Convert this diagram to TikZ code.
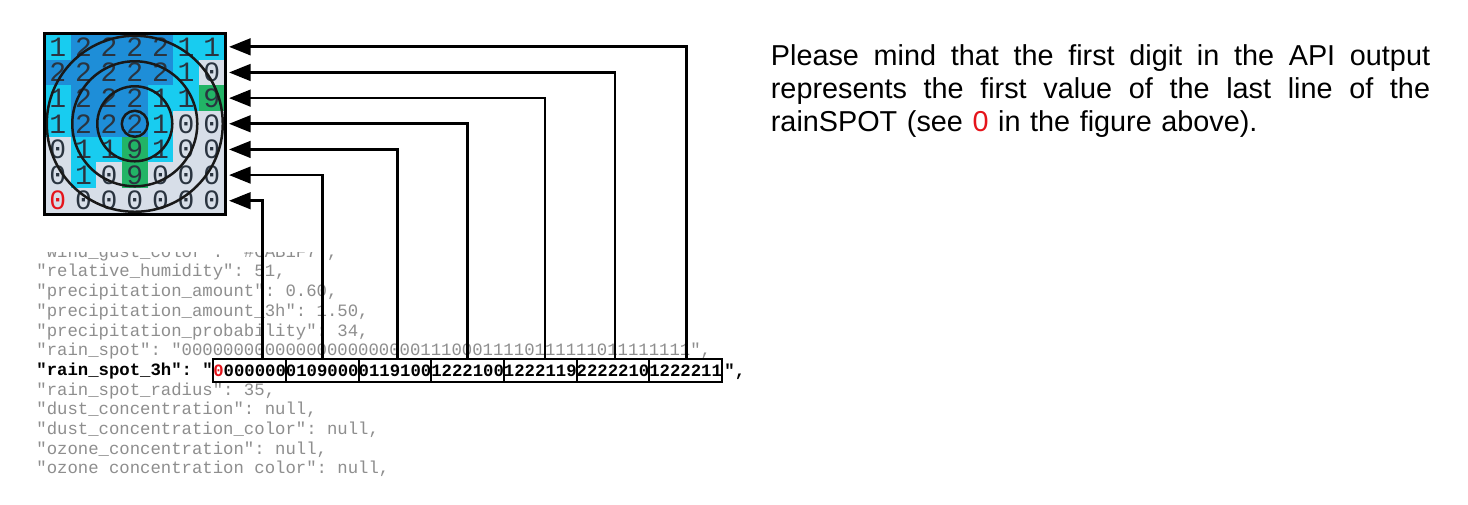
\documentclass[tikz,border=0pt]{standalone}
\usepackage{fontspec}
\setmainfont{Liberation Sans}
\newfontfamily\monofont{Liberation Mono}
\usetikzlibrary{arrows.meta,calc}
\definecolor{v0}{HTML}{D7DEE8}
\definecolor{v1}{HTML}{18CCF0}
\definecolor{v2}{HTML}{1E8ED8}
\definecolor{v9}{HTML}{22B466}
\definecolor{digit}{HTML}{2A3440}
\definecolor{cred}{HTML}{E5141B}
\definecolor{codegray}{HTML}{8E8E8E}
\begin{document}
\begin{tikzpicture}[x=0.5pt,y=-0.5pt,
  cell/.style={minimum size=12.9pt, inner sep=0pt, font=\monofont\fontsize{14}{14}\selectfont},
  ring/.style={line width=1.25pt, black!90},
  frame/.style={line width=1.5pt, black},
  code/.style={inner sep=0pt, anchor=base west, text=codegray, font=\monofont\frenchspacing\fontsize{8.65}{8.65}\selectfont},
  codeb/.style={inner sep=0pt, text=black, font=\monofont\frenchspacing\bfseries\fontsize{8.65}{8.65}\selectfont},
  sbox/.style={codeb, draw=black, line width=1pt, inner xsep=0pt, outer sep=0pt, minimum height=11.5pt, text height=0.62em, text depth=0pt, anchor=west},
  conn/.style={line width=1.35pt, black, -{Triangle[length=10.8pt,width=8.3pt]}},
  note/.style={inner sep=0pt, anchor=base west, text width=329.6pt, font=\fontsize{14.4}{16.5}\selectfont}]
\useasboundingbox (0,0) rectangle (1468,504);
\fill[white] (0,0) rectangle (1468,504);

% rainSPOT grid
\foreach \row [count=\ri] in {{1,2,2,2,2,1,1},{2,2,2,2,2,1,0},{1,2,2,2,1,1,9},{1,2,2,2,1,0,0},{0,1,1,9,1,0,0},{0,1,0,9,0,0,0},{0,0,0,0,0,0,0}}{
  \foreach \d [count=\ci] in \row {
    \edef\tc{\ifnum\ri\ci=71 cred\else digit\fi}
    \node[cell, fill=v\d, text=\tc] (c\ri\ci) at ({57.825+25.65*(\ci-1)},{46.825+25.65*(\ri-1)}) {\d};
  }
}
\begin{scope}
  \clip (c11.north west) rectangle (c77.south east);
  \foreach \rr in {6.5,18.75,31.25,44} \draw[ring] (c44.center) circle[radius=\rr pt];
\end{scope}
\draw[frame] (c11.north west) rectangle (c77.south east);
\foreach \ri in {1,...,7} \coordinate (a\ri) at ($(c\ri7.east)+(4,0)$);

% code lines
\begin{scope}
  \clip (0,252) rectangle (1468,504);
  \node[code] (l0) at (36,257.2) {"wind\_gust\_color": "\#CAB1F7",};
\end{scope}
\node[code] (l1) at (36,276.9) {"relative\_humidity": 51,};
\node[code] (l2) at (36,296.6) {"precipitation\_amount": 0.60,};
\node[code] (l3) at (36,316.3) {"precipitation\_amount\_3h": 1.50,};
\node[code] (l4) at (36,336.0) {"precipitation\_probability": 34,};
\node[code] (l5) at (36,355.7) {"rain\_spot": "0000000000000000000000011100011110111111011111111",};
\node[codeb, anchor=base west] (l6) at (36,375.9) {"rain\_spot\_3h": "};
\node[code] (l7) at (36,395.1) {"rain\_spot\_radius": 35,};
\node[code] (l8) at (36,414.8) {"dust\_concentration": null,};
\node[code] (l9) at (36,434.5) {"dust\_concentration\_color": null,};
\node[code] (l10) at (36,454.2) {"ozone\_concentration": null,};
\node[code] (l11) at (36,473.9) {"ozone concentration color": null,};

% boxed groups of rain_spot_3h
\node[sbox] (b1) at ($(l6.base east)+(0,-5.4)$) {\textcolor{cred}{0}000000};
\node[sbox] (b2) at (b1.east) {0109000};
\node[sbox] (b3) at (b2.east) {0119100};
\node[sbox] (b4) at (b3.east) {1222100};
\node[sbox] (b5) at (b4.east) {1222119};
\node[sbox] (b6) at (b5.east) {2222210};
\node[sbox] (b7) at (b6.east) {1222211};
\node[codeb, anchor=base west] (l6e) at ($(b7.base east)+(2,0)$) {",};

% connectors
\foreach \k/\ri/\off in {1/7/49.2,2/6/36.5,3/5/38.9,4/4/36.2,5/3/40.9,6/2/38.2,7/1/37.5}
  \draw[conn] ($(b\k.north west)+(\off,0)$) |- (a\ri);

% note
\node[note] (note) at (770.5,65.7) {\hbox to 329.6pt{Please\hfill mind\hfill that\hfill the\hfill first\hfill digit\hfill in\hfill the\hfill API\hfill output}\par
\hbox to 329.6pt{represents\hfill the\hfill first\hfill value\hfill of\hfill the\hfill last\hfill line\hfill of\hfill the}\par
\hbox{rainSPOT (see \textcolor{cred}{0} in the figure above).}};
\end{tikzpicture}
\end{document}
